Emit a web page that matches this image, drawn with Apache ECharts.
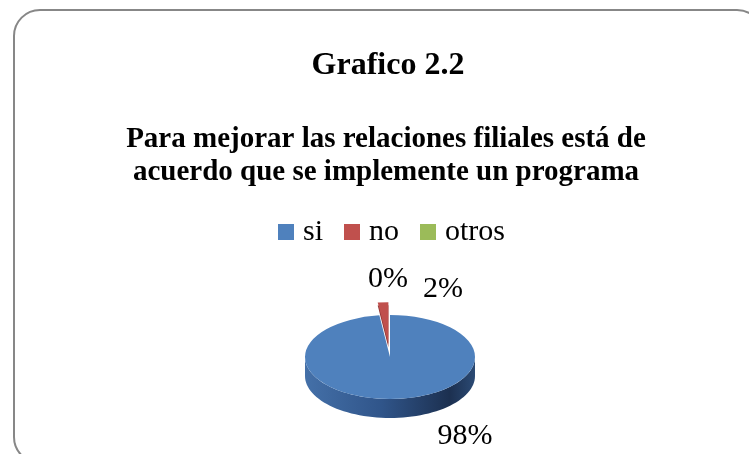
<!DOCTYPE html>
<html>
<head>
<meta charset="utf-8">
<script src="https://cdn.jsdelivr.net/npm/echarts@6/dist/echarts.min.js"></script>
<style>html,body{margin:0;padding:0;background:#fff}#c{width:749px;height:454px}</style>
</head>
<body>
<div id="c"></div>
<script>
const titleText = 'Grafico 2.2';
const subtitleText = 'Para mejorar las relaciones filiales está de\nacuerdo que se implemente un programa';
const categories = ['si', 'no', 'otros'];
const values = [98, 2, 0];
const colors = ['#4F81BD', '#C0504D', '#9BBB59'];

// layout (not data)
const PIE = { cx: 390, cy: 357, rx: 85, ry: 42, depth: 19 };
const explodeBy = [0, 26, 0];
const labelAnchors = [[465, 436], [443, 289], [388, 279]];
const FONT = '"Liberation Serif", "Times New Roman", serif';

const total = values.reduce((a, b) => a + b, 0);

function sideRanges(a0, a1) {
  const out = [];
  [[0, Math.PI], [2 * Math.PI, 3 * Math.PI], [-2 * Math.PI, -Math.PI]].forEach(([lo, hi]) => {
    const s = Math.max(a0, lo), e = Math.min(a1, hi);
    if (e > s) out.push([s, e]);
  });
  return out;
}

function renderSlice(params, api) {
  const s = params.seriesIndex;
  const v = api.value(0);
  const before = values.slice(0, s).reduce((a, b) => a + b, 0);
  const a0 = -Math.PI / 2 + 2 * Math.PI * before / total;
  const a1 = a0 + 2 * Math.PI * v / total;
  const mid = (a0 + a1) / 2;
  const k = PIE.ry / PIE.rx;
  const ox = explodeBy[s] * Math.cos(mid);
  const oy = explodeBy[s] * Math.sin(mid) * k;
  const cx = PIE.cx + ox, cy = PIE.cy + oy;
  const children = [];
  if (v > 0) {
    sideRanges(a0, a1).forEach(([lo, hi]) => {
      const pts = [];
      const n = 60;
      for (let i = 0; i <= n; i++) {
        const t = lo + (hi - lo) * i / n;
        pts.push([cx + PIE.rx * Math.cos(t), cy + PIE.ry * Math.sin(t)]);
      }
      for (let i = n; i >= 0; i--) {
        const t = lo + (hi - lo) * i / n;
        pts.push([cx + PIE.rx * Math.cos(t), cy + PIE.ry * Math.sin(t) + PIE.depth]);
      }
      const dark = s === 0
        ? [{ offset: 0, color: '#4470a8' }, { offset: 0.45, color: '#30558a' }, { offset: 0.85, color: '#1c3050' }, { offset: 1, color: '#2b4a74' }]
        : [{ offset: 0, color: '#9e3c3a' }, { offset: 1, color: '#7a2a28' }];
      children.push({
        type: 'polygon',
        shape: { points: pts },
        style: { fill: new echarts.graphic.LinearGradient(PIE.cx - PIE.rx, 0, PIE.cx + PIE.rx, 0, dark, true) }
      });
    });
    if (s !== 0) {
      children.push({
        type: 'group', x: cx, y: cy + 3, scaleY: k,
        children: [{ type: 'sector', shape: { cx: 0, cy: 0, r: PIE.rx, r0: 0, startAngle: a0, endAngle: a1, clockwise: true }, style: { fill: '#8c3432' } }]
      });
    }
    children.push({
      type: 'group', x: cx, y: cy, scaleY: k,
      children: [{
        type: 'sector',
        shape: { cx: 0, cy: 0, r: PIE.rx, r0: 0, startAngle: a0, endAngle: a1, clockwise: true },
        style: { fill: api.visual('color') }
      }]
    });
  }
  const pct = Math.round(v / total * 100) + '%';
  children.push({
    type: 'text', x: labelAnchors[s][0], y: labelAnchors[s][1],
    style: { text: pct, fill: '#000', font: '30px ' + FONT, align: 'center', verticalAlign: 'middle' }
  });
  return { type: 'group', children };
}

const chart = echarts.init(document.getElementById('c'), null, { renderer: 'canvas' });
chart.setOption({
  animation: false,
  backgroundColor: '#fff',
  graphic: [
    { type: 'rect', shape: { x: 14, y: 10, width: 749, height: 453, r: 26 }, style: { fill: 'none', stroke: '#878787', lineWidth: 2 }, z: 0 },
    { type: 'text', x: 388, y: 66, style: { text: titleText, fill: '#000', font: 'bold 32px ' + FONT, align: 'center', verticalAlign: 'middle' } },
    { type: 'text', x: 386, y: 123, style: { text: subtitleText, fill: '#000', font: 'bold 29px ' + FONT, align: 'center', verticalAlign: 'top', lineHeight: 33 } }
  ],
  legend: {
    data: categories,
    top: 212,
    left: 273,
    icon: 'rect',
    itemWidth: 16,
    itemHeight: 16,
    itemGap: 21,
    textStyle: { fontFamily: 'Liberation Serif', fontSize: 30, color: '#000', padding: [0, 0, 0, 4] }
  },
  series: categories.map((c, i) => ({
    type: 'custom',
    name: c,
    coordinateSystem: 'none',
    silent: true,
    itemStyle: { color: colors[i] },
    data: [values[i]],
    renderItem: renderSlice
  }))
});
</script>
</body>
</html>
